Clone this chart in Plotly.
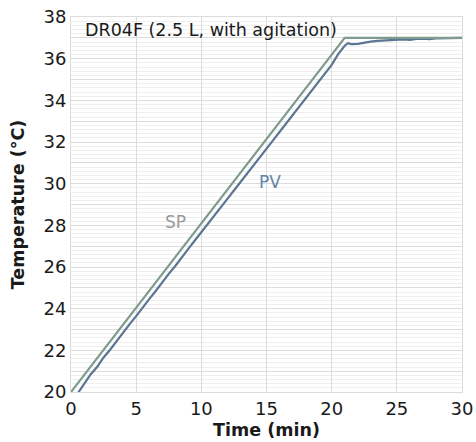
import plotly.graph_objects as go

# Set point (SP) profile
sp_time = [0, 21, 30]
sp_temp = [20.0, 37.0, 37.0]

# Process value (PV)
pv_time = [0, 0.5, 1.0, 1.5, 2.0, 2.5, 3.0, 3.5, 4.0, 4.5, 5.0, 5.5, 6.0, 6.5, 7.0,
           7.5, 8.0, 8.5, 9.0, 9.5, 10.0, 10.5, 11.0, 11.5, 12.0, 12.5, 13.0, 13.5,
           14.0, 14.5, 15.0, 15.5, 16.0, 16.5, 17.0, 17.5, 18.0, 18.5, 19.0, 19.5,
           20.0, 20.5, 21.0, 21.25, 21.5, 22.0, 22.5, 23.0, 23.5, 24.0, 24.5, 25.0,
           25.5, 26.0, 26.5, 27.0, 27.5, 28.0, 28.5, 29.0, 29.5, 30.0]
pv_temp = [19.88, 19.92, 20.38, 20.84, 21.20, 21.66, 22.03, 22.44, 22.88, 23.26,
           23.64, 24.07, 24.46, 24.85, 25.28, 25.67, 26.05, 26.48, 26.87, 27.27,
           27.68, 28.07, 28.47, 28.88, 29.27, 29.67, 30.08, 30.47, 30.88, 31.28,
           31.68, 32.08, 32.48, 32.88, 33.30, 33.69, 34.10, 34.50, 34.90, 35.30,
           35.70, 36.22, 36.62, 36.74, 36.70, 36.71, 36.78, 36.82, 36.85, 36.87,
           36.90, 36.92, 36.93, 36.90, 36.95, 36.96, 36.94, 36.97, 36.98, 36.96,
           36.99, 37.00]

x_ticks = [0, 5, 10, 15, 20, 25, 30]
y_ticks = list(range(20, 39))
y_labels = [str(v) if v % 2 == 0 else "" for v in y_ticks]

FONT = "DejaVu Sans"

fig = go.Figure()
fig.add_trace(go.Scatter(x=pv_time, y=pv_temp, mode="lines", name="PV",
                         line=dict(color="#5b7593", width=2.2)))
fig.add_trace(go.Scatter(x=sp_time, y=sp_temp, mode="lines", name="SP",
                         line=dict(color="#7e9b8d", width=2.2)))

fig.add_annotation(x=0.9, y=37.37, xref="x", yref="y", text="DR04F (2.5 L, with agitation)",
                   showarrow=False, xanchor="left", yanchor="middle",
                   font=dict(family=FONT, size=17.5, color="#1a1a1a"))
fig.add_annotation(x=8.0, y=28.16, text="SP", showarrow=False,
                   font=dict(family=FONT, size=17, color="#9a9a9a"))
fig.add_annotation(x=15.3, y=30.08, text="PV", showarrow=False,
                   font=dict(family=FONT, size=17, color="#6283a8"))

fig.update_layout(
    width=476, height=442,
    margin=dict(l=71, r=14, t=17, b=50, autoexpand=False),
    paper_bgcolor="white", plot_bgcolor="white",
    showlegend=False,
    font=dict(family=FONT, size=18, color="#1a1a1a"),
    xaxis=dict(range=[0, 30], tickvals=x_ticks, showgrid=True, gridcolor="#dcdcdc",
               gridwidth=1, zeroline=False, showline=True, linecolor="#dcdcdc",
               mirror=True, ticks="", tickfont=dict(size=18), automargin=False,
               ticklabeloverflow="allow",
               title=dict(text="<b>Time (min)</b>", font=dict(size=17.5), standoff=6)),
    yaxis=dict(range=[20, 38], tickvals=y_ticks, ticktext=y_labels, showgrid=True,
               gridcolor="#dcdcdc", gridwidth=1, zeroline=False, showline=True,
               linecolor="#dcdcdc", mirror=True, ticks="", tickfont=dict(size=18),
               automargin=False, ticklabeloverflow="allow",
               minor=dict(dtick=0.2, showgrid=True, gridcolor="#efefef", gridwidth=1),
               title=dict(text="<b>Temperature (°C)</b>", font=dict(size=17.5), standoff=14)),
)

fig.write_html("out.html", config={"displayModeBar": False},
               post_script="document.body.style.margin='0';document.body.style.overflow='hidden';")
